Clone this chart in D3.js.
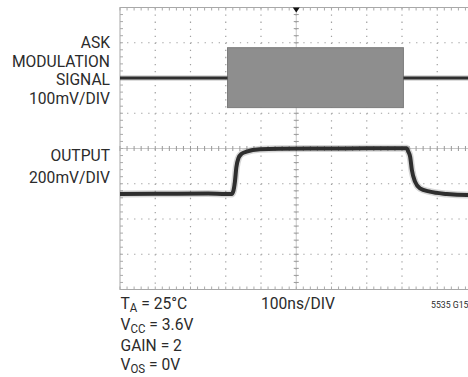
<!DOCTYPE html>
<html>
<head>
<meta charset="utf-8">
<script src="https://cdn.jsdelivr.net/npm/d3@7"></script>
<style>
  body { margin: 0; background: #fff; }
  svg { display: block; }
  text { font-family: Roboto, "Liberation Sans", sans-serif; fill: #2b2b2b; }
</style>
</head>
<body>
<svg id="chart" width="468" height="377"></svg>
<script>
// time axis, ns (100ns/DIV, 10 divisions)
var timeDomain = [0, 1000];
var divDomain = [-4, 4];

// ASK modulation channel, mV (100mV/DIV), baseline 2 div above centre
var askOffsetDiv = 2;
var askMvPerDiv = 100;
var askOffTime = [[0, 305], [804, 1000]];
var askOffLevel = 0;
var askBurstTime = [305, 804];
var askBurstTop = 86;
var askBurstBottom = -84;

// output channel, mV (200mV/DIV), low level 1.29 div below centre
var outOffsetDiv = -1.29;
var outMvPerDiv = 200;
var outTime = [0, 120, 250, 300, 317, 321, 326, 330, 336, 345, 359, 397, 450, 600, 700, 813, 818, 823, 828, 837, 851, 879, 927, 984, 1000];
var outMv   = [0, 1, 2, 0, 0, 13, 70, 150, 203, 228, 240, 254, 257, 258, 259, 259, 240, 212, 136, 70, 32, 13, 0, -6, -6];

var leftLabels = ["ASK", "MODULATION", "SIGNAL", "100mV/DIV", "OUTPUT", "200mV/DIV"];
var leftBaselines = [48, 66.5, 85, 103.5, 161, 182.5];

var narrow = 0.92; // the original type is a condensed face

var svg = d3.select('#chart');

var x = d3.scaleLinear().domain(timeDomain).range([120, 472.5]);
var y = d3.scaleLinear().domain(divDomain).range([289.5, 7.5]);

function askY(mv) { return y(askOffsetDiv + mv / askMvPerDiv); }
function outY(mv) { return y(outOffsetDiv + mv / outMvPerDiv); }

var grid = svg.append('g');
var majorX = d3.range(timeDomain[0], timeDomain[1] + 1, 100);
var majorY = d3.range(divDomain[0], divDomain[1] + 1, 1);
var minorX = d3.range(timeDomain[0], timeDomain[1] + 1, 20);
var minorY = d3.range(divDomain[0], divDomain[1] + 0.01, 0.2);
var step = x(20) - x(0);

// dotted grid
grid.selectAll('.vdot').data(majorX.slice(1, -1)).enter().append('line')
    .attr('x1', function(d) { return x(d); })
    .attr('x2', function(d) { return x(d); })
    .attr('y1', y(4)).attr('y2', y(-4))
    .attr('stroke', '#a0a0a0')
    .attr('stroke-width', 1.2)
    .attr('stroke-dasharray', '1.3,' + (step - 1.3));
grid.selectAll('.hdot').data(majorY.slice(1, -1)).enter().append('line')
    .attr('y1', function(d) { return y(d); })
    .attr('y2', function(d) { return y(d); })
    .attr('x1', x(0)).attr('x2', x(1000))
    .attr('stroke', '#a0a0a0')
    .attr('stroke-width', 1.2)
    .attr('stroke-dasharray', '1.3,' + (step - 1.3));

// centre axes
grid.append('line')
    .attr('x1', x(500)).attr('x2', x(500)).attr('y1', y(4)).attr('y2', y(-4))
    .attr('stroke', '#c8c8c8');
grid.append('line')
    .attr('x1', x(0)).attr('x2', x(1000)).attr('y1', y(0)).attr('y2', y(0))
    .attr('stroke', '#c8c8c8');
grid.selectAll('.cxt').data(minorX).enter().append('line')
    .attr('x1', function(d) { return x(d); })
    .attr('x2', function(d) { return x(d); })
    .attr('y1', y(0) - 2.5).attr('y2', y(0) + 2.5)
    .attr('stroke', '#999');
grid.selectAll('.cyt').data(minorY).enter().append('line')
    .attr('y1', function(d) { return y(d); })
    .attr('y2', function(d) { return y(d); })
    .attr('x1', x(500) - 2.5).attr('x2', x(500) + 2.5)
    .attr('stroke', '#999');

// border with inner ticks
grid.append('rect')
    .attr('x', x(0)).attr('y', y(4))
    .attr('width', x(1000) - x(0)).attr('height', y(-4) - y(4))
    .attr('fill', 'none').attr('stroke', '#a8a8a8');
grid.selectAll('.tt').data(minorX).enter().append('line')
    .attr('x1', function(d) { return x(d); })
    .attr('x2', function(d) { return x(d); })
    .attr('y1', y(4)).attr('y2', y(4) + 3)
    .attr('stroke', '#aaa');
grid.selectAll('.bt').data(minorX).enter().append('line')
    .attr('x1', function(d) { return x(d); })
    .attr('x2', function(d) { return x(d); })
    .attr('y1', y(-4)).attr('y2', y(-4) - 3)
    .attr('stroke', '#aaa');
grid.selectAll('.lt').data(minorY).enter().append('line')
    .attr('y1', function(d) { return y(d); })
    .attr('y2', function(d) { return y(d); })
    .attr('x1', x(0)).attr('x2', x(0) + 3)
    .attr('stroke', '#aaa');

// trigger marker
svg.append('path')
    .attr('d', 'M' + (x(500) - 3.5) + ',' + y(4) + 'h7l-3.5,5z')
    .attr('fill', '#111');

// ASK burst
svg.append('rect')
    .attr('x', x(askBurstTime[0]))
    .attr('width', x(askBurstTime[1]) - x(askBurstTime[0]))
    .attr('y', askY(askBurstTop))
    .attr('height', askY(askBurstBottom) - askY(askBurstTop))
    .attr('fill', '#8e8e8e')
    .attr('stroke', '#7c7c7c')
    .attr('stroke-width', 1);

var askLine = d3.line()
    .x(function(d) { return x(d); })
    .y(function() { return askY(askOffLevel); });

askOffTime.forEach(function(seg) {
    svg.append('path').attr('d', askLine(seg))
        .attr('stroke', '#777').attr('stroke-opacity', 0.35)
        .attr('stroke-width', 5.5).attr('fill', 'none');
    svg.append('path').attr('d', askLine(seg))
        .attr('stroke', '#2e2e2e').attr('stroke-width', 3.2).attr('fill', 'none');
});

// output trace
var outPts = outTime.map(function(t, i) { return [t, outMv[i]]; });
var outLine = d3.line()
    .x(function(d) { return x(d[0]); })
    .y(function(d) { return outY(d[1]); })
    .curve(d3.curveMonotoneX);

svg.append('path').attr('d', outLine(outPts))
    .attr('stroke', '#777').attr('stroke-opacity', 0.3)
    .attr('stroke-width', 7).attr('fill', 'none');
svg.append('path').attr('d', outLine(outPts))
    .attr('stroke', '#2e2e2e').attr('stroke-width', 4).attr('fill', 'none');

// text helper: condensed by a horizontal scale around its anchor
function label(px, py, size, anchor) {
    return svg.append('text')
        .attr('transform', 'translate(' + px + ',' + py + ') scale(' + narrow + ',1)')
        .attr('text-anchor', anchor || 'start')
        .style('font-size', size + 'px');
}

leftLabels.forEach(function(d, i) {
    label(110, leftBaselines[i], 17, 'end').text(d);
});

// conditions under the grid
var conds = [
    { main: 'T', sub: 'A', rest: ' = 25°C' },
    { main: 'V', sub: 'CC', rest: ' = 3.6V' },
    { main: 'GAIN = 2', sub: '', rest: '' },
    { main: 'V', sub: 'OS', rest: ' = 0V' }
];
var condBaselines = [308.5, 330, 350.5, 369.5];
conds.forEach(function(c, i) {
    var t = label(120.5, condBaselines[i], 17);
    t.append('tspan').text(c.main);
    if (c.sub) {
        t.append('tspan').attr('dy', 3).style('font-size', '12.5px').text(c.sub);
        t.append('tspan').attr('dy', -3).text(c.rest);
    }
});

label(261, 308.5, 17).text('100ns/DIV');
label(431, 308, 9.5).text('5535 G15');
</script>
</body>
</html>
